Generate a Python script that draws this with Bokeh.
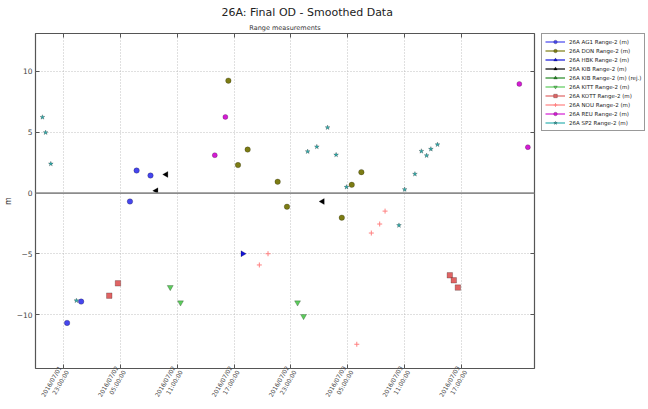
import pandas as pd
from math import pi
from bokeh.plotting import figure
from bokeh.layouts import row
from bokeh.models import (FixedTicker, DatetimeTickFormatter, Span, Legend, Title,
                          LegendItem, LinearAxis, DatetimeAxis, Range1d, ColumnDataSource,
                          CustomJSTickFormatter)
from bokeh.embed import file_html
from bokeh.resources import INLINE

# ---- data (time, range residual in m) ----
ag1_t = ["2016-07-01 23:23", "2016-07-02 00:52", "2016-07-02 06:01", "2016-07-02 06:43", "2016-07-02 08:11"]
ag1_v = [-10.66, -8.91, -0.69, 1.85, 1.44]

don_t = ["2016-07-02 16:24", "2016-07-02 17:25", "2016-07-02 18:26", "2016-07-02 21:36",
         "2016-07-02 22:35", "2016-07-03 04:22", "2016-07-03 05:25", "2016-07-03 06:26"]
don_v = [9.23, 2.30, 3.57, 0.93, -1.12, -2.02, 0.68, 1.72]

hbk_t = ["2016-07-02 17:55"]
hbk_v = [-4.98]

kib_t = ["2016-07-02 08:47", "2016-07-02 09:50", "2016-07-03 02:20"]
kib_v = [0.19, 1.53, -0.69]

kibrej_t = []
kibrej_v = []

kitt_t = ["2016-07-02 10:16", "2016-07-02 11:21", "2016-07-02 23:42", "2016-07-03 00:20"]
kitt_v = [-7.73, -8.99, -8.99, -10.11]

kott_t = ["2016-07-02 03:50", "2016-07-02 04:45", "2016-07-03 15:46", "2016-07-03 16:11", "2016-07-03 16:37"]
kott_v = [-8.42, -7.41, -6.75, -7.16, -7.76]

nou_t = ["2016-07-02 19:40", "2016-07-02 20:35", "2016-07-03 05:57", "2016-07-03 07:29",
         "2016-07-03 08:22", "2016-07-03 08:56"]
nou_v = [-5.90, -4.98, -12.41, -3.28, -2.54, -1.48]

reu_t = ["2016-07-02 14:58", "2016-07-02 16:05", "2016-07-03 23:06", "2016-07-04 00:00"]
reu_v = [3.11, 6.25, 8.96, 3.77]

sp2_t = ["2016-07-01 20:47", "2016-07-01 21:07", "2016-07-01 21:40", "2016-07-02 00:22",
         "2016-07-03 00:46", "2016-07-03 01:44", "2016-07-03 02:52", "2016-07-03 03:46",
         "2016-07-03 04:52", "2016-07-03 10:24", "2016-07-03 11:00", "2016-07-03 12:05",
         "2016-07-03 12:46", "2016-07-03 13:19", "2016-07-03 13:46", "2016-07-03 14:28"]
sp2_v = [6.23, 4.97, 2.40, -8.83, 3.41, 3.80, 5.38, 3.14, 0.49, -2.65, 0.30, 1.56,
         3.44, 3.08, 3.61, 3.98]

x_ticks = ["2016-07-01 23:00", "2016-07-02 05:00", "2016-07-02 11:00", "2016-07-02 17:00",
           "2016-07-02 23:00", "2016-07-03 05:00", "2016-07-03 11:00", "2016-07-03 17:00"]
y_ticks = [-10, -5, 0, 5, 10]

series = [
    ("26A AG1 Range-2 (m)", ag1_t, ag1_v, "circle", "#4646ee", 5.5),
    ("26A DON Range-2 (m)", don_t, don_v, "circle", "#7c7c14", 5.5),
    ("26A HBK Range-2 (m)", hbk_t, hbk_v, "triangle", "#1414d8", 6),
    ("26A KIB Range-2 (m)", kib_t, kib_v, "triangle", "#000000", 6),
    ("26A KIB Range-2 (m) (rej.)", kibrej_t, kibrej_v, "triangle", "#228822", 6),
    ("26A KITT Range-2 (m)", kitt_t, kitt_v, "inverted_triangle", "#5ccc5c", 6),
    ("26A KOTT Range-2 (m)", kott_t, kott_v, "square", "#e06464", 5.5),
    ("26A NOU Range-2 (m)", nou_t, nou_v, "cross", "#ff8080", 5),
    ("26A REU Range-2 (m)", reu_t, reu_v, "circle", "#d41cd4", 5),
    ("26A SP2 Range-2 (m)", sp2_t, sp2_v, "star", "#30b0b0", 5),
]
angles = {2: -pi / 2, 3: pi / 2, 4: 0}

def ms(s):
    return pd.Timestamp(s).value // 10**6

p = figure(width=541, height=409, x_axis_type="datetime", output_backend="svg",
           toolbar_location=None,
           x_range=Range1d(ms("2016-07-01 20:03"), ms("2016-07-04 00:42")),
           y_range=Range1d(-14.4, 13.1),
           min_border_left=34, min_border_right=7, min_border_top=33, min_border_bottom=40)
p.background_fill_color = "white"
p.border_fill_color = "white"
p.outline_line_color = "#555555"
p.outline_line_width = 1.2

for g in (p.xgrid, p.ygrid):
    g.grid_line_color = "#b0b0b0"
    g.grid_line_dash = "1 2"
    g.grid_line_width = 0.8

p.add_layout(Span(location=0, dimension="width", line_color="#8c8c8c", line_width=1.8))

# legend holder figure (its sample glyphs sit outside its own visible range)
q = figure(width=107, height=409, output_backend="svg", toolbar_location=None,
           x_range=Range1d(0, 1), y_range=Range1d(0, 1),
           min_border_left=0, min_border_right=0, min_border_top=32, min_border_bottom=0)
q.axis.visible = False
q.grid.visible = False
q.outline_line_color = None
q.background_fill_color = "white"
q.border_fill_color = "white"

items = []
for i, (name, t, v, marker, color, size) in enumerate(series):
    src = ColumnDataSource(dict(x=pd.to_datetime(pd.Series(t, dtype="object")), y=v))
    ang = angles.get(i, 0)
    if marker == "cross":
        style = dict(marker=marker, size=size, line_color=color, line_width=1)
    else:
        style = dict(marker=marker, size=size, angle=ang, fill_color=color,
                     line_color="#000000", line_alpha=0.45, line_width=0.5)
    p.scatter("x", "y", source=src, **style)
    ln = q.line(x=[5, 6], y=[5, 5], line_color=color, line_width=1.2)
    sc = q.scatter(x=[5], y=[5], **style)
    items.append(LegendItem(label=name, renderers=[ln, sc]))

legend = Legend(items=items, location="top_left", orientation="vertical")
legend.label_text_font = "DejaVu Sans"
legend.label_text_font_size = "5.5px"
legend.label_text_color = "#222222"
legend.label_height = 9
legend.glyph_height = 9
legend.glyph_width = 20
legend.spacing = 0
legend.padding = 3
legend.margin = 0
legend.label_standoff = 4
legend.border_line_color = "#333333"
legend.border_line_width = 0.8
legend.background_fill_alpha = 1
q.add_layout(legend, "center")

# axes
xa = p.xaxis[0]
xa.ticker = FixedTicker(ticks=[ms(s) for s in x_ticks])
fmt = "%Y/%m/%d\n%H:%M:%S"
xa.formatter = DatetimeTickFormatter(microseconds=fmt, milliseconds=fmt, seconds=fmt,
                                     minsec=fmt, minutes=fmt, hourmin=fmt, hours=fmt,
                                     days=fmt, months=fmt, years=fmt)
xa.major_label_orientation = pi / 3
xa.major_label_text_font_size = "6px"
xa.major_label_text_font = "DejaVu Sans"
xa.major_label_text_color = "#444444"
xa.major_label_standoff = 0

ya = p.yaxis[0]
ya.ticker = FixedTicker(ticks=y_ticks)
ya.major_label_text_font_size = "7.5px"
ya.major_label_text_font = "DejaVu Sans"
ya.major_label_text_color = "#444444"
ya.major_label_standoff = 3
ya.axis_label = "m"
ya.axis_label_text_font = "DejaVu Sans"
ya.axis_label_text_font_size = "8px"
ya.axis_label_text_font_style = "normal"
ya.axis_label_text_color = "#333333"
ya.axis_label_standoff = 1

for ax in (xa, ya):
    ax.axis_line_color = None
    ax.major_tick_in = 4
    ax.major_tick_out = 0
    ax.major_tick_line_color = "#555555"
    ax.minor_tick_line_color = None

blank = CustomJSTickFormatter(code="return '';")
ra = LinearAxis(ticker=FixedTicker(ticks=y_ticks), formatter=blank,
                axis_line_color=None, major_tick_in=4, major_tick_out=0,
                major_tick_line_color="#555555", minor_tick_line_color=None,
                major_label_standoff=0)
p.add_layout(ra, "right")
ta = DatetimeAxis(ticker=FixedTicker(ticks=[ms(s) for s in x_ticks]), formatter=blank,
                  axis_line_color=None, major_tick_in=4, major_tick_out=0,
                  major_tick_line_color="#555555", minor_tick_line_color=None,
                  major_label_standoff=0)
p.add_layout(ta, "above")

# titles
p.add_layout(Title(text="Range measurements", text_font="DejaVu Sans", text_font_size="6.5px",
                   text_font_style="normal", text_color="#333333", align="center",
                   standoff=3), "above")
p.add_layout(Title(text="26A: Final OD - Smoothed Data", text_font="DejaVu Sans",
                   text_font_size="11px", text_font_style="normal", text_color="#222222",
                   align="left", offset=186, standoff=3), "above")

layout = row(p, q, spacing=0)
open("out.html", "w").write(file_html(layout, INLINE))
